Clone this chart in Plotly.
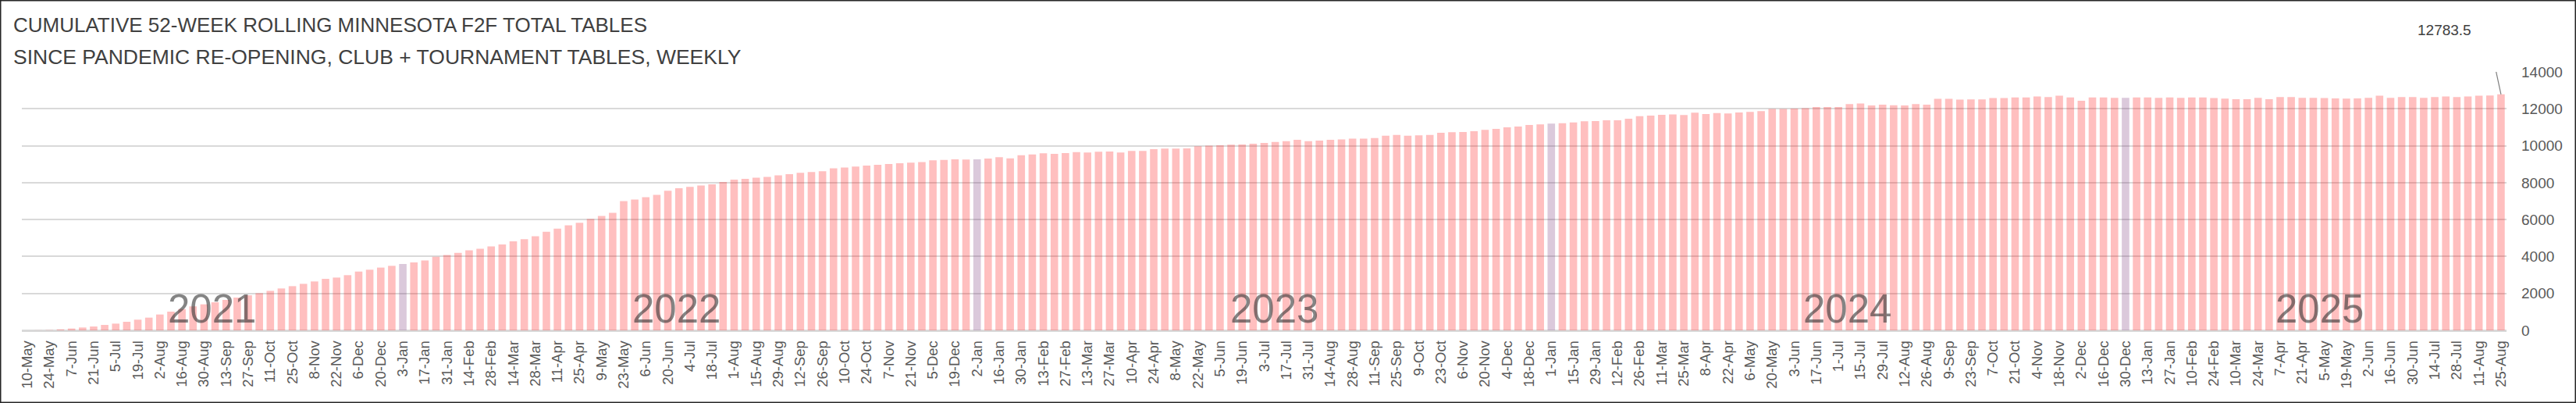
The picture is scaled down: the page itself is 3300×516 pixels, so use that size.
import pandas as pd
import plotly.graph_objects as go

# ---------------- data (weekly, Monday-dated, grouped by ISO year) ----------------
start_week = "2021-05-10"

tables_2021 = [0, 5, 15, 55, 100, 155, 210, 295, 365, 465, 580, 690, 860, 1015, 1155,
               1300, 1410, 1520, 1650, 1775, 1900, 2015, 2140, 2270, 2395, 2520, 2650,
               2790, 2860, 2990, 3185, 3285, 3400, 3495]
tables_2022 = [3595, 3680, 3790, 3990, 4080, 4197, 4338, 4422, 4549, 4648, 4817, 4943,
               5098, 5338, 5507, 5690, 5830, 6042, 6196, 6365, 6999, 7084, 7210, 7337,
               7562, 7703, 7773, 7844, 7914, 8041, 8168, 8210, 8266, 8309, 8393, 8464,
               8534, 8576, 8618, 8773, 8815, 8872, 8922, 8964, 9007, 9049, 9078, 9120,
               9205, 9234, 9262, 9248]
tables_2023 = [9262, 9305, 9375, 9319, 9489, 9531, 9588, 9560, 9602, 9659, 9631, 9673,
               9687, 9631, 9716, 9716, 9815, 9843, 9843, 9858, 9971, 9999, 10028, 10056,
               10070, 10113, 10155, 10200, 10245, 10315, 10245, 10273, 10315, 10342,
               10385, 10385, 10412, 10538, 10580, 10538, 10566, 10580, 10706, 10734,
               10748, 10790, 10860, 10916, 11000, 11042, 11126, 11154]
tables_2024 = [11196, 11224, 11266, 11322, 11336, 11378, 11378, 11462, 11601, 11629,
               11671, 11699, 11665, 11786, 11718, 11774, 11746, 11803, 11831, 11873,
               11986, 11986, 12014, 12028, 12099, 12099, 12099, 12254, 12282, 12183,
               12226, 12197, 12183, 12254, 12226, 12536, 12536, 12494, 12508, 12508,
               12578, 12578, 12620, 12620, 12663, 12635, 12705, 12620, 12437, 12620,
               12620, 12592]
tables_2025 = [12592, 12620, 12620, 12592, 12620, 12592, 12620, 12620, 12578, 12550,
               12522, 12522, 12592, 12522, 12635, 12635, 12592, 12592, 12578, 12564,
               12550, 12564, 12592, 12705, 12592, 12635, 12635, 12592, 12635, 12663,
               12635, 12663, 12705, 12719, 12783.5]

year_groups = [("2021", tables_2021), ("2022", tables_2022), ("2023", tables_2023),
               ("2024", tables_2024), ("2025", tables_2025)]

y_ticks = [0, 2000, 4000, 6000, 8000, 10000, 12000, 14000]

title_line1 = "CUMULATIVE 52-WEEK ROLLING MINNESOTA F2F TOTAL TABLES"
title_line2 = "SINCE PANDEMIC RE-OPENING, CLUB + TOURNAMENT TABLES, WEEKLY"

# ---------------- derived series ----------------
values = [v for _, grp in year_groups for v in grp]
weeks = pd.date_range(start_week, periods=len(values), freq="7D")
categories = [f"{d.day}-{d.strftime('%b')}" for d in weeks]
tick_labels = categories[::2]

PINK = "rgba(255,0,0,0.25)"
PURPLE = "rgba(110,40,110,0.25)"
colors = [PURPLE if d.isocalendar().week == 1 else PINK for d in weeks]

# ---------------- geometry / layout positions ----------------
W, H = 3300, 516
ML, MR, MT, MB = 28, 89, 92, 93
PW, PH = W - ML - MR, H - MT - MB

# category-index positions at which the large year labels sit
year_label_pos = [16.7, 58.8, 112.9, 164.8, 207.6]


def px_x(px):
    return (px - ML) / PW


def px_y(py):
    return (H - MB - py) / PH


FONT = "Liberation Sans, Arial, sans-serif"

fig = go.Figure()
fig.add_trace(go.Bar(
    x=categories, y=values,
    marker=dict(color=colors, line=dict(width=0)),
    hoverinfo="x+y",
))

annotations = [
    dict(text=title_line1, xref="paper", yref="paper", x=px_x(15), y=px_y(32),
         xanchor="left", yanchor="middle", showarrow=False,
         font=dict(family=FONT, size=26, color="#404040")),
    dict(text=title_line2, xref="paper", yref="paper", x=px_x(15), y=px_y(73),
         xanchor="left", yanchor="middle", showarrow=False,
         font=dict(family=FONT, size=26.5, color="#404040")),
    dict(text=f"{values[-1]}", xref="paper", yref="paper", x=px_x(3168), y=px_y(38),
         xanchor="right", yanchor="middle", showarrow=False,
         font=dict(family=FONT, size=19, color="#404040")),
]

for (name, _), pos in zip(year_groups, year_label_pos):
    annotations.append(dict(
        text=name, xref="x", yref="paper", x=pos, y=px_y(395),
        xanchor="center", yanchor="middle", showarrow=False,
        font=dict(family=FONT, size=51, color="rgba(50,50,50,0.6)")))

shapes = [
    # leader line from the data label to the last bar
    dict(type="path", xref="x", yref="y", xsizemode="pixel", ysizemode="pixel",
         xanchor=len(values) - 1, yanchor=values[-1],
         path="M -29,83 L -18,83 L 0,0", line=dict(color="#7f7f7f", width=1.2)),
    # chart border
    dict(type="rect", xref="paper", yref="paper",
         x0=px_x(0.75), x1=px_x(W - 0.75), y0=px_y(H - 0.75), y1=px_y(0.75),
         line=dict(color="#262626", width=1.5), layer="above"),
]

fig.update_layout(
    width=W, height=H,
    margin=dict(l=ML, r=MR, t=MT, b=MB, pad=0),
    paper_bgcolor="white", plot_bgcolor="white",
    bargap=0.32,
    showlegend=False,
    annotations=annotations,
    shapes=shapes,
    xaxis=dict(
        type="category", tickmode="array", tickvals=tick_labels, ticktext=tick_labels,
        tickangle=-90, tickfont=dict(family=FONT, size=18.5, color="#595959"),
        showgrid=False, showline=True, linecolor="#d9d9d9", linewidth=1.5,
        ticks="", range=[-0.5, len(values) - 0.5], fixedrange=True,
        ticklabelstandoff=4,
    ),
    yaxis=dict(
        side="right", range=[0, 14000], tickvals=y_ticks,
        ticktext=[str(t) for t in y_ticks],
        tickfont=dict(family=FONT, size=19, color="#595959"),
        showgrid=True, gridcolor="#d9d9d9", gridwidth=1.5,
        zeroline=True, zerolinecolor="#d9d9d9", zerolinewidth=1.5,
        ticks="", ticklabelstandoff=18, fixedrange=True,
    ),
)

fig.write_html("out.html", config={"displayModeBar": False},
               post_script="document.body.style.margin='0px';")
